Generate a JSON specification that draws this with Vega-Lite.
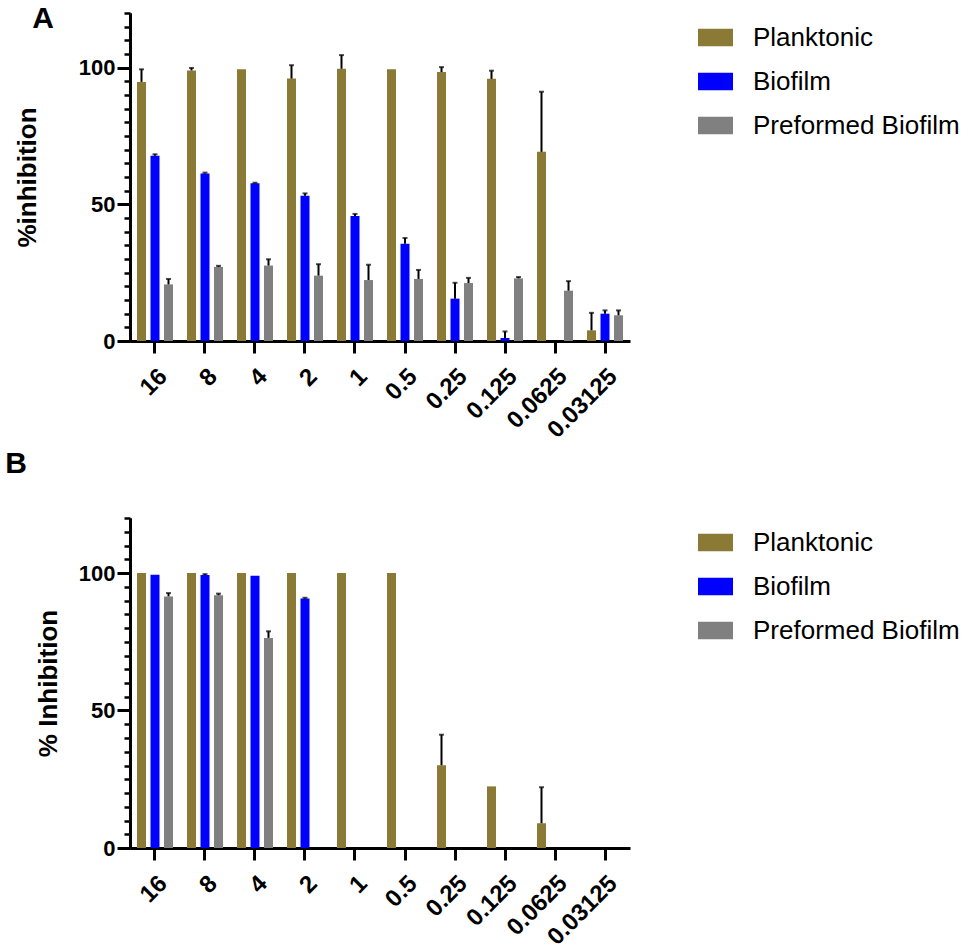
{
  "$schema": "https://vega.github.io/schema/vega-lite/v6.json",
  "padding": {"left": 5, "top": 3, "right": 5, "bottom": 0},
  "background": "white",
  "config": {
    "font": "Liberation Sans",
    "view": {"stroke": null},
    "axis": {
      "domainColor": "black", "domainWidth": 3, "tickColor": "black",
      "labelColor": "black", "labelFont": "Liberation Sans", "labelFontWeight": "bold",
      "grid": false, "titleColor": "black", "titleFont": "Liberation Sans", "titleFontWeight": "bold"
    },
    "legend": {
      "labelFont": "Liberation Sans", "labelFontSize": 26, "labelColor": "black",
      "symbolType": "M-1,-0.5H1V0.5H-1Z", "symbolSize": 1225, "symbolStrokeWidth": 0,
      "rowPadding": 13, "labelOffset": 20, "offset": 61, "padding": 7, "title": null,
      "orient": "right", "labelLimit": 400
    },
    "title": {"font": "Liberation Sans", "fontWeight": "bold", "fontSize": 30, "color": "black", "anchor": "start", "frame": "bounds"}
  },
  "datasets": {
    "d": [
      {"panel": "A", "conc": "16", "group": "Planktonic", "value": 94.8, "upper": 99.4},
      {"panel": "A", "conc": "16", "group": "Biofilm", "value": 67.8, "upper": 68.3},
      {"panel": "A", "conc": "16", "group": "Preformed Biofilm", "value": 20.7, "upper": 22.7},
      {"panel": "A", "conc": "8", "group": "Planktonic", "value": 99.0, "upper": 99.9},
      {"panel": "A", "conc": "8", "group": "Biofilm", "value": 61.3, "upper": 61.6},
      {"panel": "A", "conc": "8", "group": "Preformed Biofilm", "value": 27.1, "upper": 27.5},
      {"panel": "A", "conc": "4", "group": "Planktonic", "value": 99.4, "upper": null},
      {"panel": "A", "conc": "4", "group": "Biofilm", "value": 57.7, "upper": 57.9},
      {"panel": "A", "conc": "4", "group": "Preformed Biofilm", "value": 27.6, "upper": 29.9},
      {"panel": "A", "conc": "2", "group": "Planktonic", "value": 96.0, "upper": 100.9},
      {"panel": "A", "conc": "2", "group": "Biofilm", "value": 53.1, "upper": 54.0},
      {"panel": "A", "conc": "2", "group": "Preformed Biofilm", "value": 23.9, "upper": 28.1},
      {"panel": "A", "conc": "1", "group": "Planktonic", "value": 99.6, "upper": 104.6},
      {"panel": "A", "conc": "1", "group": "Biofilm", "value": 45.7, "upper": 46.5},
      {"panel": "A", "conc": "1", "group": "Preformed Biofilm", "value": 22.3, "upper": 27.9},
      {"panel": "A", "conc": "0.5", "group": "Planktonic", "value": 99.4, "upper": null},
      {"panel": "A", "conc": "0.5", "group": "Biofilm", "value": 35.6, "upper": 37.7},
      {"panel": "A", "conc": "0.5", "group": "Preformed Biofilm", "value": 22.7, "upper": 26.0},
      {"panel": "A", "conc": "0.25", "group": "Planktonic", "value": 98.4, "upper": 100.2},
      {"panel": "A", "conc": "0.25", "group": "Biofilm", "value": 15.5, "upper": 21.3},
      {"panel": "A", "conc": "0.25", "group": "Preformed Biofilm", "value": 21.2, "upper": 23.1},
      {"panel": "A", "conc": "0.125", "group": "Planktonic", "value": 95.9, "upper": 98.9},
      {"panel": "A", "conc": "0.125", "group": "Biofilm", "value": 1.1, "upper": 3.5},
      {"panel": "A", "conc": "0.125", "group": "Preformed Biofilm", "value": 22.9, "upper": 23.4},
      {"panel": "A", "conc": "0.0625", "group": "Planktonic", "value": 69.2, "upper": 91.2},
      {"panel": "A", "conc": "0.0625", "group": "Preformed Biofilm", "value": 18.4, "upper": 21.9},
      {"panel": "A", "conc": "0.03125", "group": "Planktonic", "value": 3.9, "upper": 10.3},
      {"panel": "A", "conc": "0.03125", "group": "Biofilm", "value": 10.0, "upper": 11.2},
      {"panel": "A", "conc": "0.03125", "group": "Preformed Biofilm", "value": 9.4, "upper": 11.2},
      {"panel": "B", "conc": "16", "group": "Planktonic", "value": 100, "upper": null},
      {"panel": "B", "conc": "16", "group": "Biofilm", "value": 99.4, "upper": null},
      {"panel": "B", "conc": "16", "group": "Preformed Biofilm", "value": 91.5, "upper": 92.7},
      {"panel": "B", "conc": "8", "group": "Planktonic", "value": 100, "upper": null},
      {"panel": "B", "conc": "8", "group": "Biofilm", "value": 99.3, "upper": 99.6},
      {"panel": "B", "conc": "8", "group": "Preformed Biofilm", "value": 91.9, "upper": 92.5},
      {"panel": "B", "conc": "4", "group": "Planktonic", "value": 100, "upper": null},
      {"panel": "B", "conc": "4", "group": "Biofilm", "value": 99.0, "upper": null},
      {"panel": "B", "conc": "4", "group": "Preformed Biofilm", "value": 76.4, "upper": 78.8},
      {"panel": "B", "conc": "2", "group": "Planktonic", "value": 100, "upper": null},
      {"panel": "B", "conc": "2", "group": "Biofilm", "value": 90.7, "upper": 91.0},
      {"panel": "B", "conc": "1", "group": "Planktonic", "value": 100, "upper": null},
      {"panel": "B", "conc": "0.5", "group": "Planktonic", "value": 100, "upper": null},
      {"panel": "B", "conc": "0.25", "group": "Planktonic", "value": 30.1, "upper": 41.2},
      {"panel": "B", "conc": "0.125", "group": "Planktonic", "value": 22.4, "upper": null},
      {"panel": "B", "conc": "0.0625", "group": "Planktonic", "value": 9.0, "upper": 22.1}
    ]
  },
  "resolve": {"scale": {"color": "independent"}, "legend": {"color": "independent"}},
  "spacing": 5,
  "vconcat": [
    {
      "width": 500, "height": 328,
      "title": {"text": "A", "dx": 18, "offset": -22},
      "data": {"name": "d"},
      "transform": [{"filter": "datum.panel === 'A'"}],
      "encoding": {
        "x": {"field": "conc", "type": "ordinal", "title": null,
          "sort": ["16", "8", "4", "2", "1", "0.5", "0.25", "0.125", "0.0625", "0.03125"],
          "scale": {"paddingInner": 0.28, "paddingOuter": 0.14},
          "axis": {"labelAngle": -45, "labelFontSize": 24, "tickSize": 12, "tickWidth": 3, "labelPadding": 11}},
        "xOffset": {"field": "group", "type": "nominal",
          "sort": ["Planktonic", "Biofilm", "Preformed Biofilm"],
          "scale": {"domain": ["Planktonic", "Biofilm", "Preformed Biofilm"], "paddingInner": 0.333, "paddingOuter": 0}}
      },
      "layer": [
        {
          "mark": {"type": "bar"},
          "encoding": {
            "y": {"field": "value", "type": "quantitative", "scale": {"domain": [0, 120], "nice": false},
              "title": "%inhibition",
              "axis": {"orient": "left", "values": [0, 50, 100], "tickSize": 13, "tickWidth": 3, "labelFontSize": 22, "labelPadding": 2, "titleFontSize": 26, "titlePadding": 38}},
            "color": {"field": "group", "type": "nominal",
              "scale": {"domain": ["Planktonic", "Biofilm", "Preformed Biofilm"], "range": ["#8b7a36", "#0000ff", "#808080"]}}
          }
        },
        {
          "transform": [{"filter": "datum.upper != null"}],
          "mark": {"type": "rule", "color": "black", "strokeWidth": 2},
          "encoding": {
            "y": {"field": "value", "type": "quantitative",
              "axis": {"orient": "left", "values": [0,5,10,15,20,25,30,35,40,45,50,55,60,65,70,75,80,85,90,95,100,105,110,115,120], "tickSize": 6, "tickWidth": 2.5, "labels": false, "title": null}},
            "y2": {"field": "upper"}
          }
        },
        {
          "transform": [{"filter": "datum.upper != null"}],
          "mark": {"type": "tick", "color": "black", "thickness": 2, "size": 5, "orient": "horizontal"},
          "encoding": {
            "y": {"field": "upper", "type": "quantitative", "axis": null}
          }
        }
      ],
      "resolve": {"axis": {"y": "independent"}}
    },
    {
      "width": 500, "height": 330,
      "title": {"text": "B", "dx": -30, "offset": 38},
      "data": {"name": "d"},
      "transform": [{"filter": "datum.panel === 'B'"}],
      "encoding": {
        "x": {"field": "conc", "type": "ordinal", "title": null,
          "sort": ["16", "8", "4", "2", "1", "0.5", "0.25", "0.125", "0.0625", "0.03125"],
          "scale": {"domain": ["16", "8", "4", "2", "1", "0.5", "0.25", "0.125", "0.0625", "0.03125"], "paddingInner": 0.28, "paddingOuter": 0.14},
          "axis": {"labelAngle": -45, "labelFontSize": 24, "tickSize": 12, "tickWidth": 3, "labelPadding": 11}},
        "xOffset": {"field": "group", "type": "nominal",
          "sort": ["Planktonic", "Biofilm", "Preformed Biofilm"],
          "scale": {"domain": ["Planktonic", "Biofilm", "Preformed Biofilm"], "paddingInner": 0.333, "paddingOuter": 0}}
      },
      "layer": [
        {
          "mark": {"type": "bar"},
          "encoding": {
            "y": {"field": "value", "type": "quantitative", "scale": {"domain": [0, 120], "nice": false},
              "title": "% Inhibition",
              "axis": {"orient": "left", "values": [0, 50, 100], "tickSize": 13, "tickWidth": 3, "labelFontSize": 22, "labelPadding": 2, "titleFontSize": 26, "titlePadding": 17}},
            "color": {"field": "group", "type": "nominal",
              "scale": {"domain": ["Planktonic", "Biofilm", "Preformed Biofilm"], "range": ["#8b7a36", "#0000ff", "#808080"]}}
          }
        },
        {
          "transform": [{"filter": "datum.upper != null"}],
          "mark": {"type": "rule", "color": "black", "strokeWidth": 2},
          "encoding": {
            "y": {"field": "value", "type": "quantitative",
              "axis": {"orient": "left", "values": [0,5,10,15,20,25,30,35,40,45,50,55,60,65,70,75,80,85,90,95,100,105,110,115,120], "tickSize": 6, "tickWidth": 2.5, "labels": false, "title": null}},
            "y2": {"field": "upper"}
          }
        },
        {
          "transform": [{"filter": "datum.upper != null"}],
          "mark": {"type": "tick", "color": "black", "thickness": 2, "size": 5, "orient": "horizontal"},
          "encoding": {
            "y": {"field": "upper", "type": "quantitative", "axis": null}
          }
        }
      ],
      "resolve": {"axis": {"y": "independent"}}
    }
  ]
}
